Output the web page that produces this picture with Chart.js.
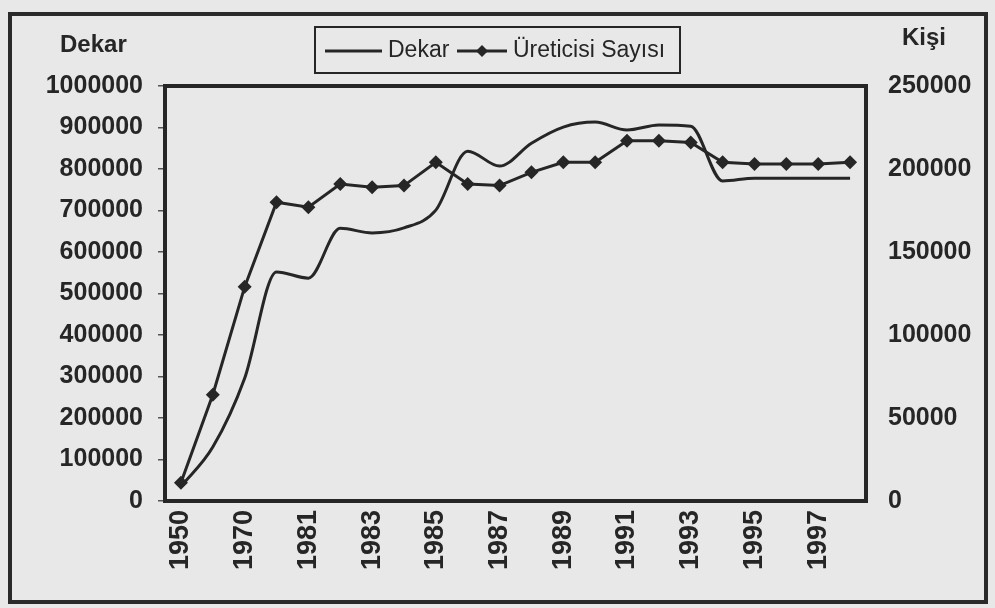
<!DOCTYPE html>
<html lang="tr">
<head>
  <meta charset="UTF-8" />
  <title>Dekar ve Üreticisi Sayısı</title>
  <script src="https://cdn.jsdelivr.net/npm/chart.js"></script>
  <style>
    body {
      margin: 0;
      background: #e8e8e8;
      font-family: 'Liberation Sans', Arial, sans-serif;
    }
    .wrap {
      position: relative;
      width: 995px;
      height: 608px;
    }
    .frame {
      position: absolute;
      left: 8px;
      top: 12px;
      width: 972px;
      height: 584px;
      border: 4px solid #2a2a2a;
      pointer-events: none;
    }
  </style>
</head>
<body>
  <div class="wrap">
    <canvas id="teaChart"></canvas>
    <div class="frame"></div>
  </div>

  <script>
    const years = ['1950', '1960', '1970', '1980', '1981', '1982', '1983', '1984', '1985', '1986', '1987',
                   '1988', '1989', '1990', '1991', '1992', '1993', '1994', '1995', '1996', '1997', '1998'];
    const dekar = [35000, 130000, 296000, 552000, 537000, 657000, 646000, 658000, 701000, 843000, 807000,
                   862000, 901000, 913000, 894000, 906000, 903000, 771000, 778000, 778000, 778000, 778000];
    const ureticiSayisi = [11000, 64000, 129000, 180000, 177000, 191000, 189000, 190000, 204000, 191000, 190000,
                           198000, 204000, 204000, 217000, 217000, 216000, 204000, 203000, 203000, 203000, 204000];
    const leftTicks = [0, 100000, 200000, 300000, 400000, 500000, 600000, 700000, 800000, 900000, 1000000];
    const rightTicks = [0, 50000, 100000, 150000, 200000, 250000];

    const ink = '#262626';
    const tickFont = { family: "'Liberation Sans', Arial, sans-serif", size: 25, weight: 'bold' };
    const plain = v => String(v);

    // plot frame, axis titles and the boxed legend
    const decor = {
      id: 'decor',
      afterDraw(chart) {
        const { ctx, chartArea: a } = chart;
        ctx.save();
        ctx.strokeStyle = ink;
        ctx.lineWidth = 4;
        ctx.strokeRect(a.left, a.top, a.right - a.left, a.bottom - a.top);

        ctx.fillStyle = ink;
        ctx.font = "bold 24px 'Liberation Sans', Arial, sans-serif";
        ctx.textBaseline = 'middle';
        ctx.textAlign = 'left';
        ctx.fillText('Dekar', 60, 45);
        ctx.fillText('Kişi', 902, 38);

        // legend
        ctx.lineWidth = 2;
        ctx.strokeRect(315, 27, 365, 46);
        ctx.lineWidth = 3;
        ctx.beginPath();
        ctx.moveTo(325, 51); ctx.lineTo(382, 51);
        ctx.moveTo(457, 51); ctx.lineTo(507, 51);
        ctx.stroke();
        ctx.beginPath();
        ctx.moveTo(482, 45); ctx.lineTo(488, 51); ctx.lineTo(482, 57); ctx.lineTo(476, 51);
        ctx.closePath();
        ctx.fill();
        ctx.font = "23px 'Liberation Sans', Arial, sans-serif";
        ctx.fillText('Dekar', 388, 51);
        ctx.fillText('Üreticisi Sayısı', 513, 51);
        ctx.restore();
      }
    };

    new Chart(document.getElementById('teaChart'), {
      type: 'line',
      data: {
        labels: years,
        datasets: [
          {
            label: 'Dekar',
            data: dekar,
            yAxisID: 'y',
            borderColor: ink,
            borderWidth: 3,
            pointRadius: 0,
            cubicInterpolationMode: 'monotone'
          },
          {
            label: 'Üreticisi Sayısı',
            data: ureticiSayisi,
            yAxisID: 'y2',
            borderColor: ink,
            backgroundColor: ink,
            borderWidth: 3,
            tension: 0,
            pointStyle: 'rectRot',
            pointRadius: 7,
            pointBorderWidth: 0
          }
        ]
      },
      options: {
        responsive: true,
        maintainAspectRatio: false,
        animation: false,
        layout: { padding: { top: 86 } },
        plugins: {
          legend: { display: false },
          tooltip: { enabled: false }
        },
        scales: {
          x: {
            offset: true,
            afterFit(scale) { scale.height = 107; },
            grid: { display: false, drawTicks: false },
            border: { display: false },
            ticks: {
              autoSkip: false,
              minRotation: 90,
              maxRotation: 90,
              padding: 9,
              color: ink,
              font: { family: "'Liberation Sans', Arial, sans-serif", size: 27, weight: 'bold' },
              callback(value, i) { return i % 2 === 0 ? years[i] : ''; }
            }
          },
          y: {
            position: 'left',
            min: 0,
            max: 1000000,
            afterFit(scale) { scale.width = 165; },
            afterBuildTicks(scale) { scale.ticks = leftTicks.map(v => ({ value: v })); },
            grid: { drawOnChartArea: false, tickLength: 7, color: '#555', lineWidth: 1.5 },
            border: { display: false },
            ticks: { padding: 15, color: ink, font: tickFont, callback: plain }
          },
          y2: {
            position: 'right',
            min: 0,
            max: 250000,
            afterFit(scale) { scale.width = 129; },
            afterBuildTicks(scale) { scale.ticks = rightTicks.map(v => ({ value: v })); },
            grid: { drawOnChartArea: false, drawTicks: false },
            border: { display: false },
            ticks: { padding: 22, color: ink, font: tickFont, callback: plain }
          }
        }
      },
      plugins: [decor]
    });
  </script>
</body>
</html>
